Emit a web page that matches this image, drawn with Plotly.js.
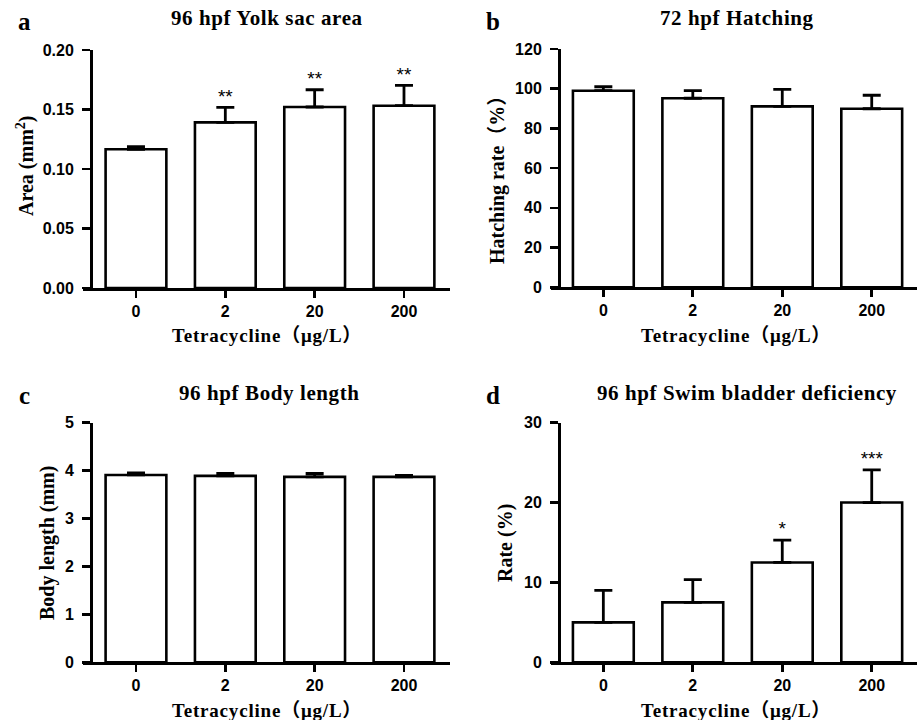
<!DOCTYPE html>
<html>
<head>
<meta charset="utf-8">
<script src="https://cdn.plot.ly/plotly-3.0.1.min.js"></script>
<style>html,body{margin:0;padding:0;background:#fff;}#chart{width:919px;height:720px;}</style>
</head>
<body>
<div id="chart"></div>
<script>
// ---- data ----
const categories = ['0', '2', '20', '200'];

const yolkMean = [0.1166, 0.1392, 0.1521, 0.1532];
const yolkErr = [0.0022, 0.0126, 0.0145, 0.0170];
const yolkStars = ['', '**', '**', '**'];

const hatchMean = [99.0, 95.2, 91.1, 89.9];
const hatchErr = [2.0, 3.8, 8.6, 6.8];
const hatchStars = ['', '', '', ''];

const bodyMean = [3.91, 3.89, 3.87, 3.87];
const bodyErr = [0.04, 0.05, 0.07, 0.03];
const bodyStars = ['', '', '', ''];

const swimMean = [5.0, 7.5, 12.5, 20.0];
const swimErr = [4.0, 2.85, 2.8, 4.1];
const swimStars = ['', '', '*', '***'];

const panelLetters = ['a', 'b', 'c', 'd'];
const panelTitles = ['96 hpf Yolk sac area', '72 hpf Hatching', '96 hpf Body length', '96 hpf Swim bladder deficiency'];
const yTitles = ['Area (mm<sup>2</sup>)', 'Hatching rate（%）', 'Body length (mm)', 'Rate (%)'];
const xTitle = 'Tetracycline（μg/L）';
const yRanges = [[0, 0.2], [0, 120], [0, 5], [0, 30]];
const yDticks = [0.05, 20, 1, 10];
const yFormats = ['.2f', '', '', ''];

// ---- layout helpers (pixel geometry) ----
const W = 919, H = 720;
const px = v => v / W;
const py = v => 1 - v / H;

const panels = [
  {mean: yolkMean, err: yolkErr, stars: yolkStars, xd: [83, 450], xr: [-0.593, 3.515], yd: [288, 50], yPos: 91,
   letter: [24, 21], title: [267, 18], ytitle: [25, 166], xtitle: [267, 335]},
  {mean: hatchMean, err: hatchErr, stars: hatchStars, xd: [551, 917], xr: [-0.585, 3.506], yd: [287.3, 49], yPos: 559,
   letter: [493, 21], title: [737, 18], ytitle: [497, 175], xtitle: [736, 335]},
  {mean: bodyMean, err: bodyErr, stars: bodyStars, xd: [83, 450], xr: [-0.593, 3.515], yd: [662.3, 422.7], yPos: 91,
   letter: [24, 395], title: [269, 393], ytitle: [47, 543], xtitle: [267, 710]},
  {mean: swimMean, err: swimErr, stars: swimStars, xd: [551, 917], xr: [-0.585, 3.506], yd: [662.3, 422.7], yPos: 559,
   letter: [493, 395], title: [747, 393], ytitle: [505, 543], xtitle: [736, 710]}
];

const serif = '"Liberation Serif", "Times New Roman", "Noto Sans CJK SC", serif';
const sans = '"Liberation Sans", Arial, Helvetica, sans-serif';
const spaced = (t, ls) => '<span style="letter-spacing:' + ls + 'px"><b>' + t + '</b></span>';

const traces = [];
const layout = {
  width: W, height: H,
  margin: {l: 0, r: 0, t: 0, b: 0},
  paper_bgcolor: '#fff', plot_bgcolor: 'rgba(0,0,0,0)',
  showlegend: false,
  annotations: []
};

panels.forEach((p, i) => {
  const n = i + 1;
  const xa = n === 1 ? 'x' : 'x' + n;
  const ya = n === 1 ? 'y' : 'y' + n;
  traces.push({
    type: 'bar', x: categories, y: p.mean, xaxis: xa, yaxis: ya,
    width: 0.68,
    marker: {color: '#ffffff', line: {color: '#000', width: 2.6}},
    error_y: {type: 'data', symmetric: false, array: p.err, arrayminus: p.err.map(() => 0),
              color: '#000', thickness: 2.8, width: 9},
    hoverinfo: 'skip'
  });
  const idx = p.stars.map((s, k) => s ? k : -1).filter(k => k >= 0);
  if (idx.length) {
    traces.push({
      type: 'scatter', mode: 'text',
      x: idx.map(k => categories[k]), y: idx.map(k => p.mean[k] + p.err[k]),
      text: idx.map(k => p.stars[k]), textposition: 'top center', cliponaxis: false,
      textfont: {family: sans, size: 19, color: '#000'},
      xaxis: xa, yaxis: ya, hoverinfo: 'skip'
    });
  }
  layout['xaxis' + (n === 1 ? '' : n)] = {
    type: 'category', domain: [px(p.xd[0]), px(p.xd[1])], range: p.xr, anchor: ya,
    showline: true, linecolor: '#000', linewidth: 2.6, mirror: false,
    showgrid: false, zeroline: false,
    ticks: 'outside', ticklen: 7, tickwidth: 2.6, tickcolor: '#000',
    ticklabelstandoff: 0,
    tickfont: {family: sans, size: 16, color: '#000', weight: 'bold'},
    fixedrange: true
  };
  layout['yaxis' + (n === 1 ? '' : n)] = {
    domain: [py(p.yd[0]), py(p.yd[1])], range: yRanges[i], anchor: 'free', position: px(p.yPos),
    dtick: yDticks[i], tick0: 0, tickformat: yFormats[i],
    showline: true, linecolor: '#000', linewidth: 2.6,
    showgrid: false, zeroline: false,
    ticks: 'outside', ticklen: 8, tickwidth: 2.6, tickcolor: '#000',
    ticklabelstandoff: 5,
    tickfont: {family: sans, size: 16, color: '#000', weight: 'bold'},
    fixedrange: true
  };
  layout.annotations.push(
    {text: '<b>' + panelLetters[i] + '</b>', xref: 'paper', yref: 'paper', x: px(p.letter[0]), y: py(p.letter[1]),
     xanchor: 'center', yanchor: 'middle', showarrow: false, font: {family: serif, size: 25, color: '#000'}},
    {text: spaced(panelTitles[i], 0.6), xref: 'paper', yref: 'paper', x: px(p.title[0]), y: py(p.title[1]),
     xanchor: 'center', yanchor: 'middle', showarrow: false, font: {family: serif, size: 21, color: '#000'}},
    {text: '<b>' + yTitles[i] + '</b>', xref: 'paper', yref: 'paper', x: px(p.ytitle[0]), y: py(p.ytitle[1]),
     xanchor: 'center', yanchor: 'middle', textangle: -90, showarrow: false, font: {family: serif, size: 20, color: '#000'}},
    {text: spaced(xTitle, 0.8), xref: 'paper', yref: 'paper', x: px(p.xtitle[0]), y: py(p.xtitle[1]),
     xanchor: 'center', yanchor: 'middle', showarrow: false, font: {family: serif, size: 19, color: '#000'}}
  );
});

Plotly.newPlot('chart', traces, layout, {staticPlot: true, displayModeBar: false});
</script>
</body>
</html>
